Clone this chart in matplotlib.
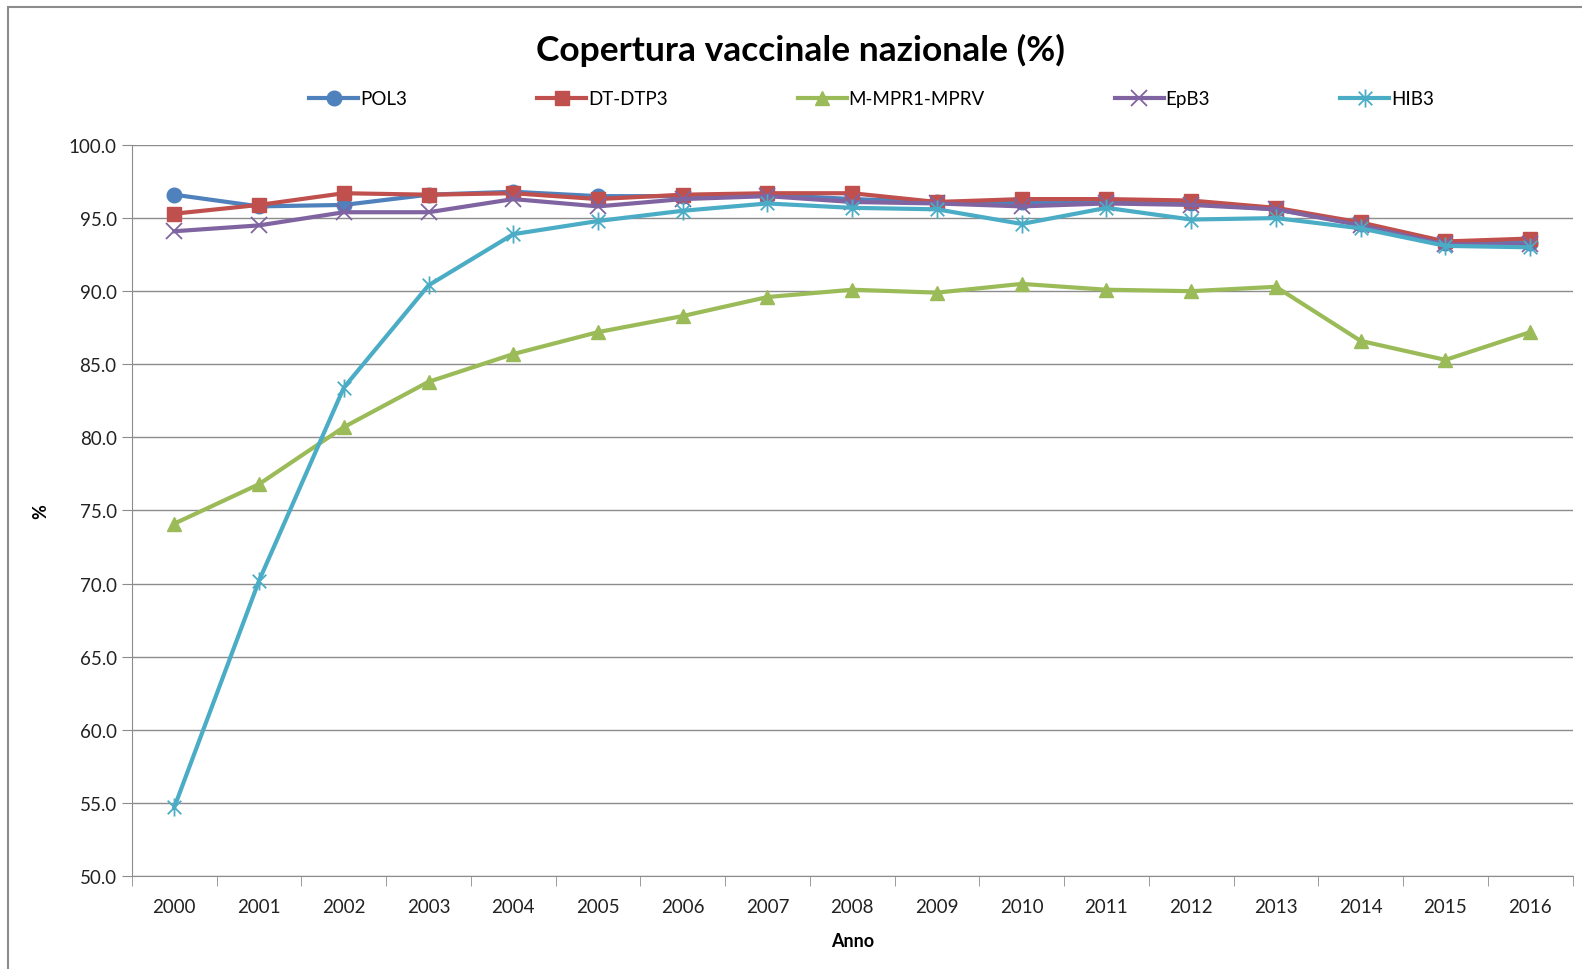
import matplotlib.pyplot as plt
import numpy as np
from matplotlib.patches import Rectangle
from matplotlib.path import Path

years = list(range(2000, 2017))

pol3 = [96.6, 95.8, 95.9, 96.6, 96.8, 96.5, 96.5, 96.6, 96.3, 96.1, 96.1, 96.1, 96.0, 95.6, 94.6, 93.3, 93.3]
dtp3 = [95.3, 95.9, 96.7, 96.6, 96.7, 96.3, 96.6, 96.7, 96.7, 96.1, 96.3, 96.3, 96.2, 95.7, 94.7, 93.4, 93.6]
mpr1 = [74.1, 76.8, 80.7, 83.8, 85.7, 87.2, 88.3, 89.6, 90.1, 89.9, 90.5, 90.1, 90.0, 90.3, 86.6, 85.3, 87.2]
epb3 = [94.1, 94.5, 95.4, 95.4, 96.3, 95.8, 96.3, 96.5, 96.1, 96.0, 95.8, 96.0, 95.9, 95.6, 94.5, 93.2, 93.2]
hib3 = [54.7, 70.2, 83.4, 90.4, 93.9, 94.8, 95.5, 96.0, 95.7, 95.6, 94.6, 95.7, 94.9, 95.0, 94.3, 93.1, 93.0]

series_names = ["POL3", "DT-DTP3", "M-MPR1-MPRV", "EpB3", "HIB3"]

plt.rcParams["font.family"] = ["Lato", "DejaVu Sans"]

# asterisco stile Excel: croce a x + barra verticale
star = Path(
    [(0, -1), (0, 1), (-0.75, -0.75), (0.75, 0.75), (-0.75, 0.75), (0.75, -0.75)],
    [Path.MOVETO, Path.LINETO, Path.MOVETO, Path.LINETO, Path.MOVETO, Path.LINETO],
)

styles = [
    dict(color="#4F81BD", marker="o", ms=10.5),
    dict(color="#C0504D", marker="s", ms=10),
    dict(color="#9BBB59", marker="^", ms=10.5),
    dict(color="#8064A2", marker="x", ms=11, mew=1.3),
    dict(color="#4BACC6", marker=star, ms=13, mew=1.3),
]

fig = plt.figure(figsize=(15.82, 9.70), dpi=100)
fig.patches.append(
    Rectangle((0.005, -0.01), 1.2, 1.002, transform=fig.transFigure,
              fill=False, edgecolor="#8c8c8c", linewidth=1.5)
)
ax = fig.add_axes([0.0834, 0.0959, 0.9106, 0.7536])

for values, name, st in zip([pol3, dtp3, mpr1, epb3, hib3], series_names, styles):
    ax.plot(years, values, linewidth=3.0, label=name, **st)

ax.set_ylim(50, 100)
ax.set_yticks(np.arange(50, 100.1, 5))
ax.set_yticklabels([f"{v:.1f}" for v in np.arange(50, 100.1, 5)])
ax.set_xlim(years[0] - 0.5, years[-1] + 0.5)
ax.set_xticks(years)
ax.set_xticks(np.arange(years[0] - 0.5, years[-1] + 0.6, 1), minor=True)
ax.tick_params(axis="x", which="major", length=0, pad=16, labelsize=13.5, colors="#222222")
ax.tick_params(axis="x", which="minor", length=7, color="#8c8c8c", direction="out")
ax.tick_params(axis="y", length=7, color="#8c8c8c", labelsize=13.5, colors="#222222", pad=4)

ax.grid(axis="y", color="#8c8c8c", linewidth=1.0)
ax.set_axisbelow(True)
for side in ["top", "right"]:
    ax.spines[side].set_visible(False)
for side in ["left", "bottom"]:
    ax.spines[side].set_color("#8c8c8c")

ax.set_xlabel("Anno", fontsize=13, fontweight="bold", labelpad=12)
ax.set_ylabel("%", fontsize=13, fontweight="bold", labelpad=14)

fig.text(0.506, 0.948, "Copertura vaccinale nazionale (%)", ha="center", va="center",
         fontsize=25.5, fontweight="bold")
fig.legend(loc="center", bbox_to_anchor=(0.551, 0.897), ncol=5, frameon=False,
           fontsize=13.5, columnspacing=6.95, handlelength=2.6, handletextpad=0.1)

plt.savefig("out.png", dpi=100)
